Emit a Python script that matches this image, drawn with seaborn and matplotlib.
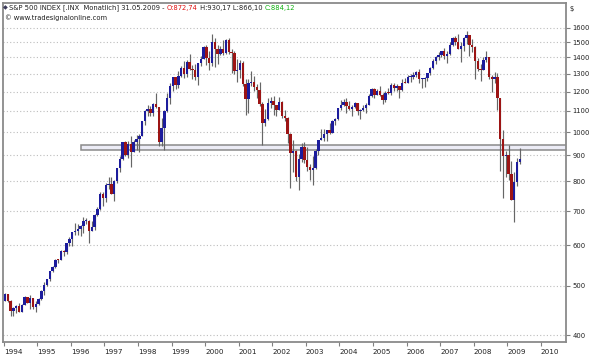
import numpy as np
import pandas as pd
import matplotlib
matplotlib.use("Agg")
import matplotlib.pyplot as plt
import matplotlib.ticker as mticker
from matplotlib.patches import Rectangle
import seaborn as sns

# monthly S&P 500 bars, Jan 1994 - May 2009 (one row per year)
closes = [
    481.61, 467.14, 445.77, 450.91, 456.50, 444.27, 458.26, 475.49, 462.69, 472.35, 453.69, 459.27,
    470.42, 487.39, 500.71, 514.71, 533.40, 544.75, 562.06, 561.88, 584.41, 581.50, 605.37, 615.93,
    636.02, 640.43, 645.50, 654.17, 669.12, 670.63, 639.95, 651.99, 687.33, 705.27, 757.02, 740.74,
    786.16, 790.82, 757.12, 801.34, 848.28, 885.14, 954.29, 899.47, 947.28, 914.62, 955.40, 970.43,
    980.28, 1049.34, 1101.75, 1111.75, 1090.82, 1133.84, 1120.67, 957.28, 1017.01, 1098.67, 1163.63, 1229.23,
    1279.64, 1238.33, 1286.37, 1335.18, 1301.84, 1372.71, 1328.72, 1320.41, 1282.71, 1362.93, 1388.91, 1469.25,
    1394.46, 1366.42, 1498.58, 1452.43, 1420.60, 1454.60, 1430.83, 1517.68, 1436.51, 1429.40, 1314.95, 1320.28,
    1366.01, 1239.94, 1160.33, 1249.46, 1255.82, 1224.38, 1211.23, 1133.58, 1040.94, 1059.78, 1139.45, 1148.08,
    1130.20, 1106.73, 1147.39, 1076.92, 1067.14, 989.82, 911.62, 916.07, 815.28, 885.76, 936.31, 879.82,
    855.70, 841.15, 848.18, 916.92, 963.59, 974.50, 990.31, 1008.01, 995.97, 1050.71, 1058.20, 1111.92,
    1131.13, 1144.94, 1126.21, 1107.30, 1120.68, 1140.84, 1101.72, 1104.24, 1114.58, 1130.20, 1173.82, 1211.92,
    1181.27, 1203.60, 1180.59, 1156.85, 1191.50, 1191.33, 1234.18, 1220.33, 1228.81, 1207.01, 1249.48, 1248.29,
    1280.08, 1280.66, 1294.83, 1310.61, 1270.09, 1270.20, 1276.66, 1303.82, 1335.85, 1377.94, 1400.63, 1418.30,
    1438.24, 1406.82, 1420.86, 1482.37, 1530.62, 1503.35, 1455.27, 1473.99, 1526.75, 1549.38, 1481.14, 1468.36,
    1378.55, 1330.63, 1322.70, 1385.59, 1400.38, 1280.00, 1267.38, 1282.83, 1166.36, 968.75, 896.24, 903.25,
    825.88, 735.09, 797.87, 872.81, 884.12,
]
highs = [
    482.85, 481.94, 468.64, 453.11, 457.63, 462.12, 459.27, 476.59, 474.11, 478.17, 472.35, 466.45,
    472.70, 489.19, 507.01, 515.22, 534.89, 547.09, 563.84, 564.37, 586.84, 587.57, 606.45, 622.88,
    637.65, 664.23, 659.40, 656.69, 680.32, 679.46, 672.61, 670.68, 690.88, 714.10, 762.12, 761.75,
    794.67, 817.68, 814.90, 804.13, 851.87, 898.70, 957.73, 961.63, 960.46, 983.12, 963.65, 986.25,
    992.65, 1050.98, 1105.65, 1130.52, 1123.95, 1138.49, 1190.58, 1121.24, 1066.11, 1103.78, 1192.97, 1244.93,
    1280.43, 1283.24, 1316.63, 1347.76, 1375.98, 1383.41, 1420.33, 1350.66, 1361.39, 1364.29, 1407.84, 1473.11,
    1478.00, 1444.55, 1552.87, 1527.19, 1481.51, 1474.64, 1517.32, 1520.77, 1530.09, 1454.82, 1438.46, 1389.06,
    1383.37, 1376.38, 1267.42, 1269.30, 1315.93, 1286.62, 1239.78, 1255.81, 1143.25, 1110.61, 1163.38, 1173.62,
    1176.97, 1130.20, 1173.03, 1147.84, 1106.59, 1070.74, 994.46, 965.00, 924.02, 907.44, 951.57, 954.28,
    935.05, 864.64, 895.90, 924.24, 965.38, 1015.33, 1015.41, 1011.01, 1040.29, 1053.79, 1063.65, 1112.56,
    1155.38, 1158.98, 1163.23, 1150.57, 1127.74, 1146.34, 1140.84, 1109.68, 1131.54, 1142.05, 1188.46, 1217.33,
    1217.80, 1212.44, 1229.11, 1191.88, 1202.29, 1219.59, 1245.15, 1245.86, 1243.13, 1233.34, 1270.64, 1275.80,
    1294.90, 1297.57, 1310.88, 1318.16, 1326.70, 1274.93, 1280.42, 1306.74, 1340.28, 1389.45, 1407.89, 1431.81,
    1441.61, 1461.57, 1438.89, 1498.02, 1535.56, 1540.56, 1555.90, 1503.89, 1538.74, 1576.09, 1545.79, 1523.57,
    1471.77, 1396.02, 1359.68, 1404.57, 1440.24, 1404.05, 1292.17, 1313.15, 1303.04, 1167.03, 1007.51, 918.85,
    943.85, 877.86, 832.98, 888.70, 930.17,
]
lows = [
    465.44, 464.26, 436.16, 435.86, 441.90, 442.89, 443.32, 457.09, 461.45, 449.93, 449.05, 443.91,
    457.18, 469.20, 480.08, 499.58, 510.03, 530.72, 542.51, 553.28, 560.28, 570.97, 576.56, 597.65,
    597.29, 628.29, 627.63, 624.14, 632.71, 659.75, 605.88, 639.49, 643.97, 684.74, 703.77, 716.69,
    729.55, 773.43, 756.13, 733.54, 793.21, 833.34, 882.10, 896.88, 891.12, 855.27, 912.74, 922.72,
    912.83, 979.93, 1032.39, 1076.70, 1074.39, 1074.62, 1114.30, 939.98, 939.71, 923.32, 1093.50, 1136.89,
    1205.46, 1211.89, 1218.91, 1282.80, 1277.31, 1281.41, 1324.79, 1268.37, 1263.47, 1233.70, 1348.37, 1387.38,
    1350.14, 1325.07, 1346.62, 1339.40, 1361.09, 1415.74, 1416.54, 1424.63, 1419.44, 1305.79, 1296.99, 1254.07,
    1274.62, 1228.33, 1081.19, 1091.99, 1232.00, 1203.03, 1165.54, 1124.87, 944.75, 1026.76, 1054.31, 1114.93,
    1081.66, 1074.36, 1106.73, 1063.46, 1048.96, 952.92, 775.68, 833.44, 800.20, 768.63, 872.05, 869.45,
    840.34, 806.29, 788.90, 847.85, 902.83, 963.59, 962.10, 960.84, 990.36, 995.97, 1031.20, 1053.41,
    1105.08, 1124.44, 1087.16, 1105.97, 1076.32, 1113.32, 1078.78, 1060.72, 1098.63, 1090.19, 1127.60, 1173.37,
    1163.75, 1180.95, 1176.92, 1136.15, 1146.18, 1188.30, 1183.55, 1201.07, 1205.35, 1168.20, 1201.07, 1246.59,
    1245.74, 1253.61, 1268.42, 1280.74, 1245.34, 1219.29, 1224.54, 1261.30, 1290.93, 1327.10, 1360.98, 1385.93,
    1403.97, 1389.42, 1363.98, 1416.37, 1476.70, 1484.18, 1454.25, 1370.60, 1439.29, 1489.56, 1406.10, 1435.65,
    1270.05, 1316.75, 1256.98, 1324.35, 1373.07, 1272.00, 1200.44, 1247.45, 1106.39, 839.80, 741.02, 815.69,
    804.47, 734.52, 666.79, 783.32, 866.10,
]
first_open = 466.45

years = list(range(1994, 2011))
price_ticks = [400, 500, 600, 700, 800, 900, 1000, 1100, 1200, 1300, 1400, 1500, 1600]
band_low, band_high = 922, 945
band_start = 1996.3

head_text = "S&P 500 INDEX [.INX  Monatlich] 31.05.2009 - "
o_text = "O:872,74"
hl_text = " H:930,17 L:866,10 "
c_text = "C:884,12"
copy_text = "\u00a9 www.tradesignalonline.com"

up_col = "#1c1c9c"
down_col = "#9c1414"

sns.set_theme(style="white")
plt.rcParams["font.family"] = ["DejaVu Sans"]

df = pd.DataFrame({"close": closes, "high": highs, "low": lows})
df["open"] = [first_open] + closes[:-1]
df["t"] = 1994 + np.arange(len(df)) / 12 + 0.04
df["lo_body"] = df[["open", "close"]].min(axis=1)
df["hi_body"] = df[["open", "close"]].max(axis=1)
df["hi_body"] = np.maximum(df["hi_body"], df["lo_body"] * 1.004)
colors = np.where(df["close"] >= df["open"], up_col, down_col)

fig = plt.figure(figsize=(5.95, 3.58), dpi=100)
ax = fig.add_axes([3 / 595, 1 - 342 / 358, 563 / 595, 339 / 358])
ax.set_yscale("log")

ax.add_patch(Rectangle((band_start, band_low), 2012 - band_start, band_high - band_low,
                       facecolor="#ececf6", edgecolor="#8a8a8a", lw=1.1, zorder=1.5))

ax.vlines(df["t"], df["low"], df["high"], color="#666666", lw=0.85, zorder=2)
ax.bar(df["t"], df["hi_body"] - df["lo_body"], bottom=df["lo_body"], width=0.072,
       color=colors, lw=0, zorder=3)

ax.set_xlim(1993.98, 2010.75)
ax.set_ylim(387.6, 1790)

ax.yaxis.set_major_locator(mticker.FixedLocator(price_ticks))
ax.yaxis.set_minor_locator(mticker.NullLocator())
ax.yaxis.set_major_formatter(mticker.FuncFormatter(lambda v, p: f"{v:.0f}"))
ax.yaxis.tick_right()
ax.set_xticks(years)
ax.set_xticklabels([str(y) for y in years])
for lbl in ax.get_xticklabels():
    lbl.set_ha("left")

ax.tick_params(axis="y", which="major", right=True, length=3, width=0.8, color="#808080",
               labelsize=4.9, pad=1.5, labelcolor="#202020")
ax.tick_params(axis="x", which="major", bottom=True, length=3, width=0.8, color="#808080",
               labelsize=5.2, pad=2, labelcolor="#202020")

ax.yaxis.grid(True, which="major", ls=(0, (1, 2)), color="#bdbdbd", lw=0.8)
ax.xaxis.grid(False)
ax.set_axisbelow(True)
for sp in ax.spines.values():
    sp.set_color("#8a8a8a")
    sp.set_linewidth(1.3)

fig.text(570 / 595, 1 - 9 / 358, "$", fontsize=4.9, va="center", ha="left", color="#202020")

fig.text(5.5 / 595, 1 - 8 / 358, "\u25c6", fontsize=4.5, va="center", ha="center", color="#3a3a5a")
t0 = fig.text(9 / 595, 1 - 8 / 358, head_text, fontsize=4.9, va="center", ha="left", color="#202020")
t1 = ax.annotate(o_text, xy=(1, 0), xycoords=t0, va="bottom", ha="left", fontsize=4.9, color="#e01010")
t2 = ax.annotate(hl_text, xy=(1, 0), xycoords=t1, va="bottom", ha="left", fontsize=4.9, color="#202020")
t3 = ax.annotate(c_text, xy=(1, 0), xycoords=t2, va="bottom", ha="left", fontsize=4.9, color="#10b010")
fig.text(5 / 595, 1 - 18 / 358, copy_text, fontsize=4.9, va="center", ha="left", color="#202020")

fig.savefig("out.png", dpi=100, facecolor="white")
